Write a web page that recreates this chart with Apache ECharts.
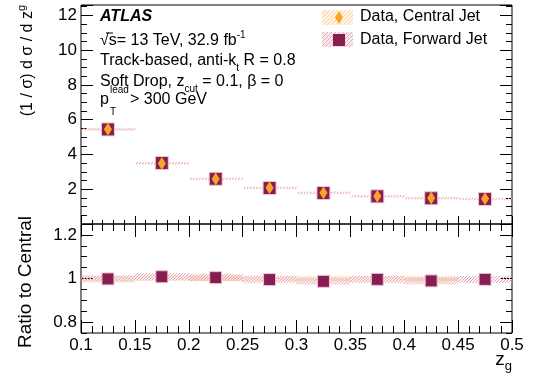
<!DOCTYPE html>
<html>
<head>
<meta charset="utf-8">
<script src="https://cdn.jsdelivr.net/npm/echarts@6/dist/echarts.min.js"></script>
<style>
  html, body { margin: 0; padding: 0; background: #ffffff; }
  #chart { width: 536px; height: 374px; }
</style>
</head>
<body>
<div id="chart"></div>
<script>
// z_g bins
const binEdges = [0.1, 0.15, 0.2, 0.25, 0.3, 0.35, 0.4, 0.45, 0.5];
const binCenters = [0.125, 0.175, 0.225, 0.275, 0.325, 0.375, 0.425, 0.475];

// (1/sigma) dsigma/dz_g
const centralJet = [5.45, 3.48, 2.59, 2.08, 1.80, 1.60, 1.50, 1.45];
const centralErr = [0.06, 0.05, 0.05, 0.05, 0.05, 0.05, 0.05, 0.05];
const forwardJet = [5.44, 3.51, 2.60, 2.07, 1.78, 1.59, 1.48, 1.44];
const forwardErr = [0.06, 0.05, 0.05, 0.05, 0.05, 0.05, 0.05, 0.05];

// ratio panel
const ratioForward = [0.998, 1.008, 1.004, 0.995, 0.987, 0.996, 0.989, 0.996];
const ratioForwardErr = [0.016, 0.016, 0.016, 0.016, 0.016, 0.016, 0.016, 0.016];
const ratioCentral = [1, 1, 1, 1, 1, 1, 1, 1];
const ratioCentralErr = [0.012, 0.012, 0.012, 0.012, 0.012, 0.012, 0.012, 0.012];

// tick labels
const xTickLabels = ['0.1', '0.15', '0.2', '0.25', '0.3', '0.35', '0.4', '0.45', '0.5'];
const mainYTickLabels = ['2', '4', '6', '8', '10', '12'];
const ratioYTickLabels = ['0.8', '1', '1.2'];

const FONT = 'Liberation Sans, Arial, Helvetica, sans-serif';
const FORWARD_COLOR = '#861e51';
const CENTRAL_COLOR = '#f9a32b';
const CENTRAL_HATCH = '#fbc88e';
const FORWARD_HATCH = '#e69aaa';

function hatch(color, bg) {
  const c = document.createElement('canvas');
  c.width = 4; c.height = 4;
  const g = c.getContext('2d');
  if (bg) { g.fillStyle = bg; g.fillRect(0, 0, 4, 4); }
  g.fillStyle = color;
  for (let i = 0; i < 4; i++) g.fillRect(i, 3 - i, 1, 1);
  return { image: c, repeat: 'repeat' };
}
const centralHatchLegend = hatch('#fcd3a0', '#fff3e3');
const forwardHatchLegend = hatch('#e6aebc', '#f8e8ee');

// hatched uncertainty band per bin: diagonal strokes clipped to the band rectangle
function bandSeries(xi, yi, values, errs, color, z) {
  return {
    type: 'custom',
    xAxisIndex: xi,
    yAxisIndex: yi,
    z: z,
    silent: true,
    encode: { x: [0, 1], y: [2, 3] },
    data: values.map((v, i) => [binEdges[i], binEdges[i + 1], v - errs[i], v + errs[i]]),
    renderItem: function (params, api) {
      const p0 = api.coord([api.value(0), api.value(3)]);
      const p1 = api.coord([api.value(1), api.value(2)]);
      const x = p0[0], y = p0[1];
      const w = p1[0] - p0[0];
      const h = Math.max(p1[1] - p0[1], 1.5);
      const children = [];
      const step = 3;
      for (let a = x - h; a < x + w; a += step) {
        const t0 = Math.max(0, x - a);
        const t1 = Math.min(h, x + w - a);
        if (t1 <= t0) continue;
        children.push({
          type: 'line',
          shape: { x1: a + t0, y1: y + h - t0, x2: a + t1, y2: y + h - t1 },
          style: { stroke: color, lineWidth: 1 }
        });
      }
      return { type: 'group', children: children };
    }
  };
}

const GRIDS = [
  { left: 81, top: 5, width: 431, height: 219, show: true, borderColor: '#000', borderWidth: 1, backgroundColor: 'transparent' },
  { left: 81, top: 224, width: 431, height: 109, show: true, borderColor: '#000', borderWidth: 1, backgroundColor: 'transparent' }
];

function xAx(grid, pos, interval, len, labels) {
  return {
    type: 'value', gridIndex: grid, position: pos, min: 0.1, max: 0.5, interval: interval,
    axisLine: { show: false }, splitLine: { show: false },
    axisTick: { show: true, inside: true, length: len, lineStyle: { color: '#000', width: 1 } },
    axisLabel: labels ? {
      show: true, margin: 4, fontSize: 17, fontFamily: FONT, color: '#000',
      showMinLabel: true, showMaxLabel: true,
      formatter: v => { const s = String(+v.toFixed(3)); return xTickLabels.includes(s) ? s : ''; }
    } : { show: false }
  };
}
function yAx(grid, pos, min, max, interval, len, opts) {
  const a = {
    type: 'value', gridIndex: grid, position: pos, min: min, max: max,
    axisLine: { show: false }, splitLine: { show: false },
    axisTick: { show: true, inside: true, length: len, lineStyle: { color: '#000', width: 1 } },
    axisLabel: { show: false }
  };
  if (interval != null) a.interval = interval;
  return Object.assign(a, opts || {});
}

const xAxes = [
  xAx(0, 'bottom', 0.05, 8, false),   // 0 main
  xAx(0, 'bottom', 0.01, 4, false),
  xAx(0, 'top', 0.05, 8, false),
  xAx(0, 'top', 0.01, 4, false),
  xAx(1, 'bottom', 0.05, 13, true),   // 4 ratio
  xAx(1, 'bottom', 0.01, 7, false),
  xAx(1, 'top', 0.05, 13, false),
  xAx(1, 'top', 0.01, 7, false)
];

const mainLabel = {
  show: true, margin: 4, fontSize: 17, fontFamily: FONT, color: '#000',
  formatter: v => { const s = String(+v.toFixed(2)); return mainYTickLabels.includes(s) ? s : ''; }
};
const ratioMajor = ratioYTickLabels.map(Number);
const yAxes = [
  yAx(0, 'left', 0, 12.6, 2, 12, { axisLabel: mainLabel }),   // 0 main
  yAx(0, 'left', 0, 12.6, 0.5, 6),
  yAx(0, 'right', 0, 12.6, 2, 12),
  yAx(0, 'right', 0, 12.6, 0.5, 6),
  yAx(1, 'left', 0.75, 1.25, 0.05, 6),                        // 4 ratio
  yAx(1, 'left', 0.75, 1.25, null, 12, {
    axisTick: { show: true, inside: true, length: 12, customValues: ratioMajor, lineStyle: { color: '#000' } },
    axisLabel: { show: true, margin: 4, fontSize: 17, fontFamily: FONT, color: '#000',
      customValues: ratioMajor,
      formatter: v => ratioYTickLabels[ratioMajor.indexOf(+(+v).toFixed(2))] || '' }
  }),
  yAx(1, 'right', 0.75, 1.25, 0.05, 6),
  yAx(1, 'right', 0.75, 1.25, null, 12, {
    axisTick: { show: true, inside: true, length: 12, customValues: ratioMajor, lineStyle: { color: '#000' } }
  })
];

const series = [
  bandSeries(0, 0, centralJet, centralErr, CENTRAL_HATCH, 2),
  bandSeries(0, 0, forwardJet, forwardErr, FORWARD_HATCH, 3),
  {
    type: 'scatter', xAxisIndex: 0, yAxisIndex: 0, z: 5, silent: true,
    symbol: 'rect', symbolSize: 13,
    itemStyle: { color: FORWARD_COLOR, borderColor: '#ecc6d6', borderWidth: 1, opacity: 1 },
    data: binCenters.map((x, i) => [x, forwardJet[i]])
  },
  {
    type: 'scatter', xAxisIndex: 0, yAxisIndex: 0, z: 6, silent: true,
    symbol: 'diamond', symbolSize: [8, 13],
    itemStyle: { color: CENTRAL_COLOR, opacity: 1 },
    data: binCenters.map((x, i) => [x, centralJet[i]])
  },
  bandSeries(4, 4, ratioCentral, ratioCentralErr, CENTRAL_HATCH, 2),
  bandSeries(4, 4, ratioForward, ratioForwardErr, FORWARD_HATCH, 3),
  {
    type: 'scatter', xAxisIndex: 4, yAxisIndex: 4, z: 5, silent: true,
    symbol: 'rect', symbolSize: 12,
    itemStyle: { color: FORWARD_COLOR, borderColor: '#ecc6d6', borderWidth: 1, opacity: 1 },
    data: binCenters.map((x, i) => [x, ratioForward[i]])
  }
];

const txt = (x, y, text, size, extra) => ({
  type: 'text', x: x, y: y, silent: true,
  style: Object.assign({ text: text, fontSize: size, fontFamily: FONT, fill: '#000', verticalAlign: 'middle', align: 'left' }, extra || {})
});

const graphic = [
  // labels
  txt(100, 17, 'ATLAS', 16, { fontStyle: 'italic', fontWeight: 'bold' }),
  txt(100, 41, '{n|√s= 13 TeV, 32.9 fb}{sup|-1}', 16, {
    rich: { n: { fontSize: 16, fontFamily: FONT, lineHeight: 22, verticalAlign: 'middle' },
            sup: { fontSize: 10, fontFamily: FONT, lineHeight: 10, verticalAlign: 'top' } }
  }),
  { type: 'line', silent: true, shape: { x1: 106, y1: 33, x2: 113, y2: 33 }, style: { stroke: '#000', lineWidth: 1 } },
  txt(100, 61, '{n|Track-based, anti-k}{sub|t}{n| R = 0.8}', 16, {
    rich: { n: { fontSize: 16, fontFamily: FONT, lineHeight: 24, verticalAlign: 'middle' },
            sub: { fontSize: 10, fontFamily: FONT, lineHeight: 10, verticalAlign: 'bottom' } }
  }),
  txt(100, 82, '{n|Soft Drop, z}{sub|cut}{n| = 0.1, β = 0}', 16, {
    rich: { n: { fontSize: 16, fontFamily: FONT, lineHeight: 24, verticalAlign: 'middle' },
            sub: { fontSize: 10, fontFamily: FONT, lineHeight: 10, verticalAlign: 'bottom' } }
  }),
  txt(100, 100, 'p', 16),
  txt(110, 90, 'lead', 10),
  txt(110, 112, 'T', 10),
  txt(130, 100, '> 300 GeV', 16),

  // legend
  { type: 'rect', silent: true, shape: { x: 322, y: 10, width: 31, height: 15 }, style: { fill: centralHatchLegend } },
  { type: 'polygon', silent: true, shape: { points: [[339, 11], [343, 17.5], [339, 24], [335, 17.5]] }, style: { fill: CENTRAL_COLOR } },
  txt(360, 17, 'Data, Central Jet', 16),
  { type: 'rect', silent: true, shape: { x: 322, y: 32, width: 31, height: 15 }, style: { fill: forwardHatchLegend } },
  { type: 'rect', silent: true, shape: { x: 333, y: 34, width: 12, height: 12 }, style: { fill: FORWARD_COLOR } },
  txt(360, 40, 'Data, Forward Jet', 16),

  // axis titles
  { type: 'text', silent: true, x: 28, y: 5, rotation: Math.PI / 2,
    style: { text: '{n|(1 / σ) d σ / d z}{s|g}', align: 'right', verticalAlign: 'middle', fill: '#000',
      rich: { n: { fontSize: 16, fontFamily: FONT, lineHeight: 24, verticalAlign: 'middle' },
              s: { fontSize: 11, fontFamily: FONT, lineHeight: 11, verticalAlign: 'top' } } } },
  { type: 'text', silent: true, x: 26, y: 282, rotation: Math.PI / 2,
    style: { text: 'Ratio to Central', align: 'center', verticalAlign: 'middle', fontSize: 19, fontFamily: FONT, fill: '#000' } },
  { type: 'text', silent: true, x: 512, y: 360,
    style: { text: '{n|z}{s|g}', align: 'right', verticalAlign: 'middle', fill: '#000',
      rich: { n: { fontSize: 19, fontFamily: FONT, lineHeight: 26, verticalAlign: 'middle' },
              s: { fontSize: 13, fontFamily: FONT, lineHeight: 12, verticalAlign: 'bottom' } } } }
];

const chart = echarts.init(document.getElementById('chart'), null, { renderer: 'canvas' });
chart.setOption({
  animation: false,
  backgroundColor: '#ffffff',
  grid: GRIDS,
  xAxis: xAxes,
  yAxis: yAxes,
  series: series,
  graphic: graphic
});
</script>
</body>
</html>
